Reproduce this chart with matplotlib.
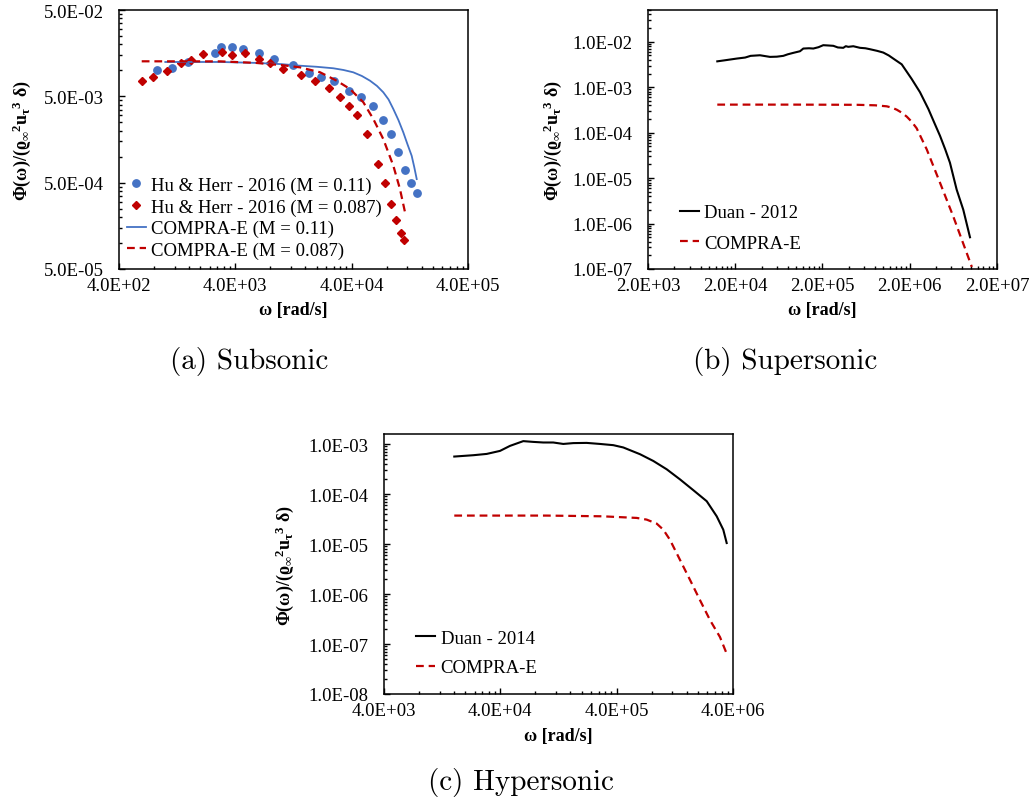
import matplotlib
matplotlib.use("Agg")
import matplotlib.pyplot as plt
from matplotlib.ticker import FixedLocator, FuncFormatter, NullFormatter

plt.rcParams['font.family'] = ['Liberation Serif', 'DejaVu Serif']
plt.rcParams['mathtext.fontset'] = 'custom'
plt.rcParams['mathtext.rm'] = 'Liberation Serif:bold'
plt.rcParams['mathtext.it'] = 'Liberation Serif:bold'
plt.rcParams['mathtext.bf'] = 'Liberation Serif:bold'
plt.rcParams['mathtext.fallback'] = 'stix'

BLUE = '#4472C4'
RED = '#C00000'

# ---- (a) subsonic ----
hu_011_w = [853, 1135, 1577, 2692, 3030, 3723, 4627, 6353, 8650, 12450, 17300,
            21680, 28200, 38200, 48100, 61400, 74300, 87100, 100700, 115000,
            129500, 145000]
hu_011_phi = [0.0101, 0.01074, 0.01259, 0.0159, 0.0185, 0.0185, 0.01767, 0.0159,
              0.01364, 0.01162, 0.00925, 0.00844, 0.00753, 0.00577, 0.00495,
              0.00389, 0.00266, 0.00183, 0.00113, 0.000701, 0.000492, 0.000379]
hu_0087_w = [627, 788, 1028, 1365, 1652, 2122, 3072, 3767, 4874, 6353, 7943,
             10280, 14680, 19370, 25700, 31600, 37700, 44500, 54500, 67000,
             77400, 87100, 96200, 107000, 113500]
hu_0087_phi = [0.00746, 0.00838, 0.0099, 0.01227, 0.01328, 0.01546, 0.01644,
               0.01517, 0.01575, 0.01352, 0.01227, 0.01028, 0.00877, 0.00746,
               0.0062, 0.00491, 0.00389, 0.00301, 0.00182, 0.000822, 0.000492,
               0.000285, 0.000185, 0.000132, 0.000109]
compra_011_w = [1000, 3000, 6000, 10000, 14390, 20000, 27800, 34000, 41300, 49000,
                57500, 66000, 74800, 83000, 91200, 101000, 111200, 121000, 131200,
                138000, 145000]
compra_011_phi = [0.0125, 0.0125, 0.0122, 0.0118, 0.01132, 0.0110, 0.01057, 0.0101,
                  0.00949, 0.0086, 0.00759, 0.0066, 0.00557, 0.0046, 0.00357,
                  0.00265, 0.00191, 0.00138, 0.001025, 0.00076, 0.00055]
compra_0087_w = [627, 3000, 6000, 10000, 14390, 21400, 29700, 38700, 50400, 61400,
                 74800, 91200, 104000, 115000]
compra_0087_phi = [0.01273, 0.0127, 0.0122, 0.0115, 0.01084, 0.0095, 0.00759,
                   0.00608, 0.00427, 0.00273, 0.0016, 0.000787, 0.000423, 0.000227]

# ---- (b) supersonic ----
duan12_w = [12450, 15000, 20800, 26000, 30000, 38400, 50000, 60000, 71100, 80000,
            92500, 110400, 120500, 140000, 157000, 180000, 204000, 230000, 266000,
            300000, 346000, 370000, 395000, 451000, 538000, 620000, 700000,
            850000, 995000, 1.15e6, 1.295e6, 1.618e6, 2.10e6, 2.62e6, 3.27e6,
            3.8e6, 4.45e6, 5.1e6, 5.78e6, 6.9e6, 8.22e6, 9.81e6]
duan12_phi = [3.71e-3, 3.9e-3, 4.27e-3, 4.5e-3, 4.9e-3, 5.05e-3, 4.65e-3, 4.7e-3,
              4.9e-3, 5.3e-3, 5.7e-3, 6.19e-3, 7.1e-3, 7.2e-3, 7.1e-3, 7.6e-3,
              8.41e-3, 8.3e-3, 8.15e-3, 7.5e-3, 7.36e-3, 8.0e-3, 7.74e-3, 7.98e-3,
              7.36e-3, 7.2e-3, 6.86e-3, 6.3e-3, 5.79e-3, 5.0e-3, 4.27e-3, 3.19e-3,
              1.53e-3, 7.78e-4, 3.32e-4, 1.7e-4, 8.49e-5, 4.3e-5, 2.18e-5,
              5.58e-6, 2.01e-6, 4.99e-7]
compra12_w = [12450, 1e5, 5e5, 8e5, 1.089e6, 1.25e6, 1.42e6, 1.62e6, 1.85e6,
              2.10e6, 2.40e6, 3.13e6, 4.45e6, 6.31e6, 1.03e7]
compra12_phi = [4.14e-4, 4.14e-4, 4.1e-4, 4.0e-4, 3.8e-4, 3.55e-4, 3.2e-4, 2.75e-4,
                2.25e-4, 1.75e-4, 1.25e-4, 4.3e-5, 7.87e-6, 1.43e-6, 1.11e-7]

# ---- (c) hypersonic ----
duan14_w = [16070, 23440, 30550, 39720, 48420, 62960, 76760, 93540, 114000,
            139000, 169500, 220800, 287700, 374100, 456000, 635000, 826000,
            1.077e6, 1.402e6, 1.823e6, 2.377e6, 2.897e6, 3.30e6, 3.53e6]
duan14_phi = [5.65e-4, 6.01e-4, 6.38e-4, 7.33e-4, 9.24e-4, 1.15e-3, 1.11e-3,
              1.08e-3, 1.08e-3, 1.01e-3, 1.05e-3, 1.06e-3, 1.01e-3, 9.55e-4,
              8.59e-4, 6.29e-4, 4.61e-4, 3.14e-4, 1.97e-4, 1.20e-4, 7.22e-5,
              3.60e-5, 1.94e-5, 1.05e-5]
compra14_w = [16070, 1e5, 3e5, 594000, 724000, 883000, 1.007e6, 1.148e6, 1.40e6,
              1.71e6, 2.08e6, 2.54e6, 3.09e6, 3.53e6]
compra14_phi = [3.72e-5, 3.72e-5, 3.6e-5, 3.34e-5, 3.09e-5, 2.57e-5, 1.94e-5,
                1.22e-5, 4.84e-6, 1.91e-6, 7.57e-7, 3.0e-7, 1.38e-7, 6.4e-8]

TICK_FS = 13.5
LAB_FS = 13
DASH = (0, (3.5, 2.2))
YLABEL = r'$\Phi(\omega)/(\varrho_{\infty}{}^{2}u_{\tau}{}^{3}\ \delta)$'

fmt = FuncFormatter(lambda v, p: f"{v:.1E}")


def style_axes(ax, xmaj, ymaj, xlim, ylim, ylab_x):
    ax.set_xscale('log')
    ax.set_yscale('log')
    ax.set_xlim(*xlim)
    ax.set_ylim(*ylim)
    ax.xaxis.set_major_locator(FixedLocator(xmaj))
    ax.yaxis.set_major_locator(FixedLocator(ymaj))
    ax.xaxis.set_minor_locator(FixedLocator([m * k for m in xmaj for k in range(2, 10)]))
    ax.yaxis.set_minor_locator(FixedLocator([m * k for m in ymaj for k in range(2, 10)]))
    ax.xaxis.set_major_formatter(fmt)
    ax.yaxis.set_major_formatter(fmt)
    ax.xaxis.set_minor_formatter(NullFormatter())
    ax.yaxis.set_minor_formatter(NullFormatter())
    ax.tick_params(which='both', direction='in', top=False, right=False,
                   width=1.0, labelsize=TICK_FS)
    ax.tick_params(which='major', length=4)
    ax.tick_params(which='minor', length=2.5)
    ax.tick_params(axis='x', pad=6)
    ax.tick_params(axis='y', pad=11)
    for s in ax.spines.values():
        s.set_linewidth(1.1)
    ax.set_xlabel('ω [rad/s]', fontsize=LAB_FS, fontweight='bold', va='center')
    ax.xaxis.set_label_coords(0.5, -0.158)
    ax.set_ylabel(YLABEL, fontsize=LAB_FS, va='center')
    ax.yaxis.set_label_coords(ylab_x, 0.5)


def add_legend(ax, y, spacing, x):
    ax.legend(loc='upper left', bbox_to_anchor=(x, y), frameon=False,
              fontsize=TICK_FS, handlelength=1.0, handletextpad=0.3,
              labelspacing=spacing, borderpad=0, borderaxespad=0)


fig = plt.figure(figsize=(10.34, 8.04), dpi=100)

axa = fig.add_axes([0.1151, 0.6642, 0.3375, 0.3221])
axa.plot(hu_011_w, hu_011_phi, 'o', color=BLUE, ms=5.3, ls='none',
         label='Hu & Herr - 2016 (M = 0.11)')
axa.plot(hu_0087_w, hu_0087_phi, 'D', color=RED, ms=4.3, ls='none',
         label='Hu & Herr - 2016 (M = 0.087)')
axa.plot(compra_011_w, compra_011_phi, color=BLUE, lw=1.3, label='COMPRA-E (M = 0.11)')
axa.plot(compra_0087_w, compra_0087_phi, color=RED, lw=1.6, ls=DASH,
         label='COMPRA-E (M = 0.087)')
style_axes(axa, [4e2, 4e3, 4e4, 4e5], [5e-5, 5e-4, 5e-3, 5e-2],
           (4e2, 4e5), (5e-5, 5e-2), -0.278)
add_legend(axa, 0.356, 0.23, 0.023)

axb = fig.add_axes([0.6267, 0.6642, 0.3375, 0.3221])
axb.plot(duan12_w, duan12_phi, color='black', lw=1.5, label='Duan - 2012')
axb.plot(compra12_w, compra12_phi, color=RED, lw=1.6, ls=DASH, label='COMPRA-E')
style_axes(axb, [2e3, 2e4, 2e5, 2e6, 2e7], [1e-7, 1e-6, 1e-5, 1e-4, 1e-3, 1e-2],
           (2e3, 2e7), (1e-7, 5e-2), -0.272)
add_legend(axb, 0.251, 0.71, 0.092)

axc = fig.add_axes([0.3714, 0.1356, 0.3375, 0.3234])
axc.plot(duan14_w, duan14_phi, color='black', lw=1.5, label='Duan - 2014')
axc.plot(compra14_w, compra14_phi, color=RED, lw=1.6, ls=DASH, label='COMPRA-E')
style_axes(axc, [4e3, 4e4, 4e5, 4e6], [1e-8, 1e-7, 1e-6, 1e-5, 1e-4, 1e-3],
           (4e3, 4e6), (1e-8, 1.6e-3), -0.284)
add_legend(axc, 0.247, 0.66, 0.092)

cap = dict(fontsize=21, family='cmr10', ha='center', va='center')
fig.text(249 / 1034, 1 - 362 / 804, '(a) Subsonic', **cap)
fig.text(785 / 1034, 1 - 362 / 804, '(b) Supersonic', **cap)
fig.text(521 / 1034, 1 - 783 / 804, '(c) Hypersonic', **cap)

fig.savefig('out.png', dpi=100)
